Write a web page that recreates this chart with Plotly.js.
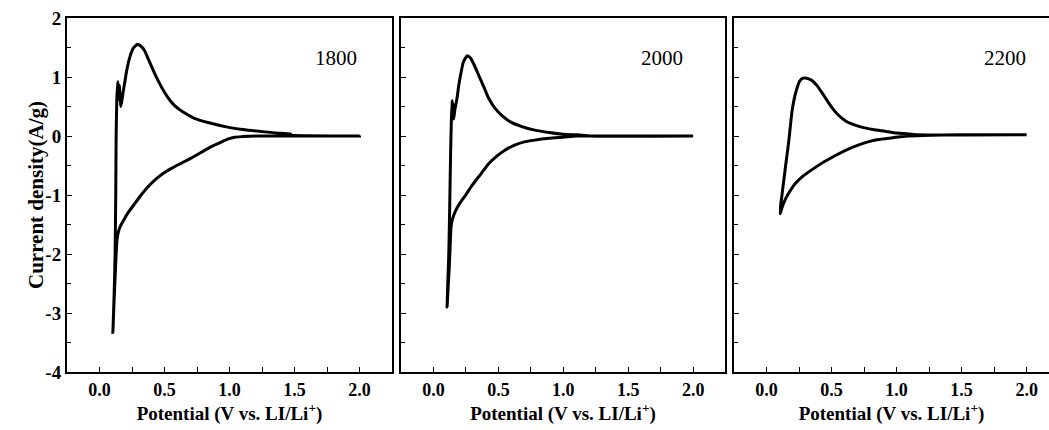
<!DOCTYPE html>
<html>
<head>
<meta charset="utf-8">
<script src="https://cdn.plot.ly/plotly-3.0.1.min.js"></script>
<style>
html,body{margin:0;padding:0;background:#fff;overflow:hidden;}
#chart{width:1049px;height:430px;}
</style>
</head>
<body>
<div id="chart"></div>
<script>
// Sample labels (one per panel)
const panelLabels = ["1800", "2000", "2200"];

// Panel 1 (1800): potential (V) and current density (A/g), traced as the CV loop
const pot1800 = [2.0, 1.5, 1.2, 1.1, 1.04, 0.99, 0.94, 0.86, 0.78, 0.70, 0.63, 0.56, 0.50, 0.44, 0.37, 0.31, 0.27, 0.22, 0.19, 0.16, 0.146, 0.135, 0.128, 0.12, 0.112, 0.103,
  0.108, 0.115, 0.12, 0.125, 0.128, 0.133, 0.14, 0.146, 0.152, 0.165, 0.18, 0.195, 0.21, 0.235, 0.26, 0.29, 0.315, 0.346, 0.38, 0.42, 0.46, 0.50, 0.54, 0.58, 0.64, 0.73, 0.85, 0.985, 1.1, 1.27, 1.40, 1.47, 1.45, 1.5, 2.0];
const cur1800 = [0.0, 0.0, 0.0, -0.01, -0.02, -0.05, -0.10, -0.18, -0.28, -0.38, -0.46, -0.54, -0.62, -0.72, -0.87, -1.03, -1.15, -1.30, -1.41, -1.53, -1.62, -1.75, -2.0, -2.4, -2.8, -3.33,
  -3.0, -2.5, -2.0, -1.0, 0.0, 0.6, 0.92, 0.62, 0.86, 0.50, 0.72, 0.92, 1.12, 1.35, 1.49, 1.55, 1.53, 1.45, 1.28, 1.08, 0.90, 0.74, 0.61, 0.51, 0.41, 0.30, 0.22, 0.15, 0.11, 0.07, 0.045, 0.04, 0.02, 0.01, 0.0];

// Panel 2 (2000)
const pot2000 = [2.0, 1.5, 1.2, 1.1, 1.0, 0.89, 0.78, 0.70, 0.63, 0.55, 0.50, 0.425, 0.37, 0.30, 0.245, 0.20, 0.17, 0.145, 0.135, 0.128, 0.12, 0.112, 0.105,
  0.11, 0.118, 0.125, 0.132, 0.137, 0.143, 0.148, 0.152, 0.156, 0.165, 0.18, 0.195, 0.21, 0.23, 0.26, 0.285, 0.31, 0.35, 0.39, 0.425, 0.47, 0.53, 0.60, 0.68, 0.78, 0.89, 1.0, 1.1, 1.16, 1.2, 2.0];
const cur2000 = [0.0, 0.0, 0.0, 0.0, -0.02, -0.04, -0.07, -0.10, -0.15, -0.24, -0.32, -0.47, -0.63, -0.83, -1.01, -1.15, -1.27, -1.42, -1.55, -1.9, -2.3, -2.6, -2.90,
  -2.5, -2.0, -1.2, -0.3, 0.2, 0.60, 0.35, 0.55, 0.29, 0.45, 0.62, 0.86, 1.05, 1.25, 1.36, 1.32, 1.22, 1.02, 0.82, 0.64, 0.48, 0.34, 0.23, 0.16, 0.10, 0.06, 0.03, 0.02, 0.01, 0.0, 0.0];

// Panel 3 (2200)
const pot2200 = [2.0, 1.5, 1.2, 1.08, 0.97, 0.86, 0.78, 0.71, 0.62, 0.53, 0.44, 0.35, 0.28, 0.22, 0.19, 0.16, 0.135, 0.12, 0.105,
  0.11, 0.12, 0.13, 0.15, 0.17, 0.185, 0.195, 0.21, 0.233, 0.255, 0.28, 0.31, 0.35, 0.39, 0.425, 0.46, 0.50, 0.55, 0.605, 0.66, 0.73, 0.82, 0.91, 1.0, 1.12, 1.16, 2.0];
const cur2200 = [0.02, 0.02, 0.01, 0.0, -0.03, -0.06, -0.10, -0.15, -0.23, -0.33, -0.44, -0.57, -0.68, -0.81, -0.90, -1.01, -1.12, -1.21, -1.32,
  -1.15, -0.98, -0.80, -0.45, -0.11, 0.2, 0.40, 0.6, 0.80, 0.93, 0.98, 0.98, 0.94, 0.85, 0.74, 0.62, 0.49, 0.36, 0.26, 0.2, 0.15, 0.11, 0.08, 0.05, 0.03, 0.02, 0.02];

// Axis ticks
const xTickVals = [0.0, 0.5, 1.0, 1.5, 2.0];
const xTickText = ["0.0", "0.5", "1.0", "1.5", "2.0"];
const yTickVals = [-4, -3, -2, -1, 0, 1, 2];
const yTickText = ["-4", "-3", "-2", "-1", "0", "1", "2"];
const xTitle = "Potential (V vs. LI/Li<sup>+</sup>)";
const yTitle = "Current density(A/g)";

const serif = "Liberation Serif";
const lineStyle = {color: "#000", width: 3, shape: "spline", smoothing: 0.5};

const traces = [
  {x: pot1800, y: cur1800, xaxis: "x", yaxis: "y", mode: "lines", line: lineStyle, name: panelLabels[0], showlegend: false},
  {x: pot2000, y: cur2000, xaxis: "x2", yaxis: "y2", mode: "lines", line: lineStyle, name: panelLabels[1], showlegend: false},
  {x: pot2200, y: cur2200, xaxis: "x3", yaxis: "y3", mode: "lines", line: lineStyle, name: panelLabels[2], showlegend: false}
];

const bold = s => "<b>" + s + "</b>";

function xAxis(domain, range, anchor) {
  return {
    domain: domain, range: range, anchor: anchor,
    tickmode: "array", tickvals: xTickVals, ticktext: xTickText.map(bold),
    ticks: "inside", ticklen: 5, tickwidth: 1, tickcolor: "#000",
    minor: {dtick: 0.25, tick0: 0, ticks: "inside", ticklen: 5, tickcolor: "#000", tickwidth: 1},
    showline: true, linecolor: "#000", linewidth: 2, mirror: true,
    showgrid: false, zeroline: false,
    tickfont: {family: serif, size: 18, color: "#000", weight: 700},
    title: {text: bold(xTitle), font: {family: serif, size: 19, color: "#000", weight: 700}, standoff: 8}
  };
}
function yAxis(domain, anchor, labels, mirror) {
  return {
    domain: domain, range: [-4, 2], anchor: anchor,
    tickmode: "array", tickvals: yTickVals, ticktext: yTickText.map(bold),
    showticklabels: labels,
    ticks: "inside", ticklen: 5, tickwidth: 1, tickcolor: "#000",
    minor: {dtick: 0.5, tick0: 0, ticks: "inside", ticklen: 4, tickcolor: "#000", tickwidth: 1},
    showline: true, linecolor: "#000", linewidth: 2, mirror: mirror,
    showgrid: false, zeroline: false,
    tickfont: {family: serif, size: 19, color: "#000", weight: 700}
  };
}

const yDom = [1 - 372/430, 1 - 18/430];
const layout = {
  width: 1049, height: 430,
  margin: {l: 0, r: 0, t: 0, b: 0},
  paper_bgcolor: "#fff", plot_bgcolor: "#fff",
  showlegend: false,
  xaxis: xAxis([67/1049, 392/1049], [-0.25, 2.25], "y"),
  xaxis2: xAxis([401/1049, 725/1049], [-0.25, 2.245], "y2"),
  xaxis3: xAxis([734/1049, 1], [-0.25, 2.172], "y3"),
  yaxis: yAxis(yDom, "x", true, true),
  yaxis2: yAxis(yDom, "x2", false, true),
  yaxis3: yAxis(yDom, "x3", false, false),
  annotations: [
    {xref: "x", yref: "y", x: 1.82, y: 1.33, text: panelLabels[0], showarrow: false, font: {family: serif, size: 21, color: "#000"}},
    {xref: "x2", yref: "y2", x: 1.76, y: 1.33, text: panelLabels[1], showarrow: false, font: {family: serif, size: 21, color: "#000"}},
    {xref: "x3", yref: "y3", x: 1.83, y: 1.33, text: panelLabels[2], showarrow: false, font: {family: serif, size: 21, color: "#000"}},
    {xref: "paper", yref: "paper", x: 22/1049, y: 1 - 195/430, text: bold(yTitle), textangle: -90, showarrow: false,
     font: {family: serif, size: 21, color: "#000", weight: 700}}
  ]
};

Plotly.newPlot("chart", traces, layout, {displayModeBar: false, staticPlot: true});
</script>
</body>
</html>
